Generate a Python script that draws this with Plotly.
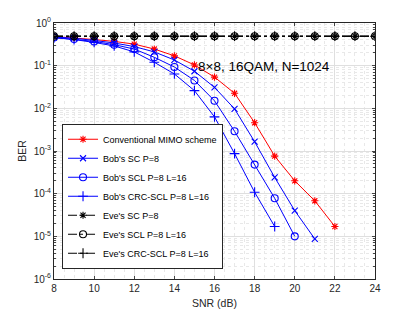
import plotly.graph_objects as go

snr_conv = [8, 9, 10, 11, 12, 13, 14, 15, 16, 17, 18, 19, 20, 21, 22]
ber_conv = [0.48, 0.45, 0.41, 0.37, 0.32, 0.245, 0.17, 0.104, 0.054, 0.0225, 0.0046, 7.6e-4, 2.0e-4, 6.8e-5, 1.7e-5]

snr_sc = [8, 9, 10, 11, 12, 13, 14, 15, 16, 17, 18, 19, 20, 21]
ber_sc = [0.47, 0.44, 0.39, 0.34, 0.28, 0.21, 0.136, 0.074, 0.031, 0.0097, 0.00165, 2.4e-4, 4.0e-5, 8.7e-6]

snr_scl = [8, 9, 10, 11, 12, 13, 14, 15, 16, 17, 18, 19, 20]
ber_scl = [0.46, 0.42, 0.37, 0.31, 0.245, 0.157, 0.093, 0.045, 0.015, 0.0029, 4.8e-4, 7.8e-5, 1.0e-5]

snr_crc = [8, 9, 10, 11, 12, 13, 14, 15, 16, 17, 18, 19]
ber_crc = [0.45, 0.41, 0.35, 0.29, 0.21, 0.12, 0.064, 0.026, 0.0063, 8.7e-4, 1.08e-4, 1.7e-5]

snr_eve = list(range(8, 25))
ber_eve_sc = [0.49] * len(snr_eve)
ber_eve_scl = [0.49] * len(snr_eve)
ber_eve_crc = [0.49] * len(snr_eve)

names = ["Conventional MIMO scheme", "Bob's SC P=8", "Bob's SCL P=8 L=16",
         "Bob's CRC-SCL P=8 L=16", "Eve's SC P=8", "Eve's SCL P=8 L=16",
         "Eve's CRC-SCL P=8 L=16"]

y_tickvals = [1e-6, 1e-5, 1e-4, 1e-3, 1e-2, 1e-1, 1]
y_ticktext = ["10<sup>-6</sup>", "10<sup>-5</sup>", "10<sup>-4</sup>", "10<sup>-3</sup>",
              "10<sup>-2</sup>", "10<sup>-1</sup>", "10<sup>0</sup>"]
x_tickvals = [8, 10, 12, 14, 16, 18, 20, 22, 24]

fig = go.Figure()
series = [
    (snr_conv, ber_conv, "#FF0000", "asterisk-open", "solid", 6),
    (snr_sc, ber_sc, "#0000FF", "x-thin-open", "solid", 6),
    (snr_scl, ber_scl, "#0000FF", "circle-open", "solid", 7),
    (snr_crc, ber_crc, "#0000FF", "cross-thin-open", "solid", 7),
    (snr_eve, ber_eve_sc, "#000000", "asterisk-open", "dashdot", 6),
    (snr_eve, ber_eve_scl, "#000000", "circle-open", "dashdot", 7),
    (snr_eve, ber_eve_crc, "#000000", "cross-thin-open", "dashdot", 7),
]
for (x, y, c, sym, dash, sz), nm in zip(series, names):
    fig.add_trace(go.Scatter(
        x=x, y=y, name=nm, mode="lines+markers",
        line=dict(color=c, width=1, dash=dash),
        marker=dict(symbol=sym, size=sz, color=c, line=dict(color=c, width=1.1)),
    ))

fig.add_annotation(x=15.08, y=-1.02, xref="x", yref="y", text="8×8, 16QAM, N=1024",
                   showarrow=False, xanchor="left", yanchor="middle",
                   font=dict(size=13.5, color="#000000", family="Liberation Sans, Arial"))

fig.update_layout(
    width=415, height=312,
    margin=dict(l=54, r=40, t=23, b=33, autoexpand=False),
    paper_bgcolor="white", plot_bgcolor="white",
    font=dict(family="Liberation Sans, Arial", size=10, color="#262626"),
    showlegend=True,
    legend=dict(x=0.025, y=0.04, xanchor="left", yanchor="bottom",
                bgcolor="white", bordercolor="#262626", borderwidth=1,
                font=dict(size=9, color="#000000"), tracegroupgap=0,
                itemwidth=30),
)
fig.update_xaxes(
    range=[8, 24], tickvals=x_tickvals, ticks="inside", ticklen=3,
    showline=True, linecolor="#262626", linewidth=1, mirror="allticks",
    showgrid=True, gridcolor="#DFDFDF", gridwidth=1, zeroline=False,
    minor=dict(dtick=0.5, showgrid=True, gridcolor="#E8E8E8", griddash="dot", ticks=""),
    title=dict(text="SNR (dB)", font=dict(size=10.5, color="#262626"), standoff=6),
    tickfont=dict(size=10),
)
fig.update_yaxes(
    type="log", range=[-6, 0], tickvals=y_tickvals, ticktext=y_ticktext,
    ticks="inside", ticklen=3,
    showline=True, linecolor="#262626", linewidth=1, mirror="allticks",
    showgrid=True, gridcolor="#DFDFDF", gridwidth=1, zeroline=False,
    minor=dict(showgrid=True, gridcolor="#E8E8E8", griddash="dot", ticks="inside", ticklen=2,
               tickvals=[m * 10 ** e for e in range(-6, 0) for m in range(2, 10)]),
    title=dict(text="BER", font=dict(size=10.5, color="#262626"), standoff=4),
    tickfont=dict(size=10),
)

fig.write_html("out.html", config={"displayModeBar": False},
               post_script="document.body.style.margin='0px';document.body.style.overflow='hidden';")
